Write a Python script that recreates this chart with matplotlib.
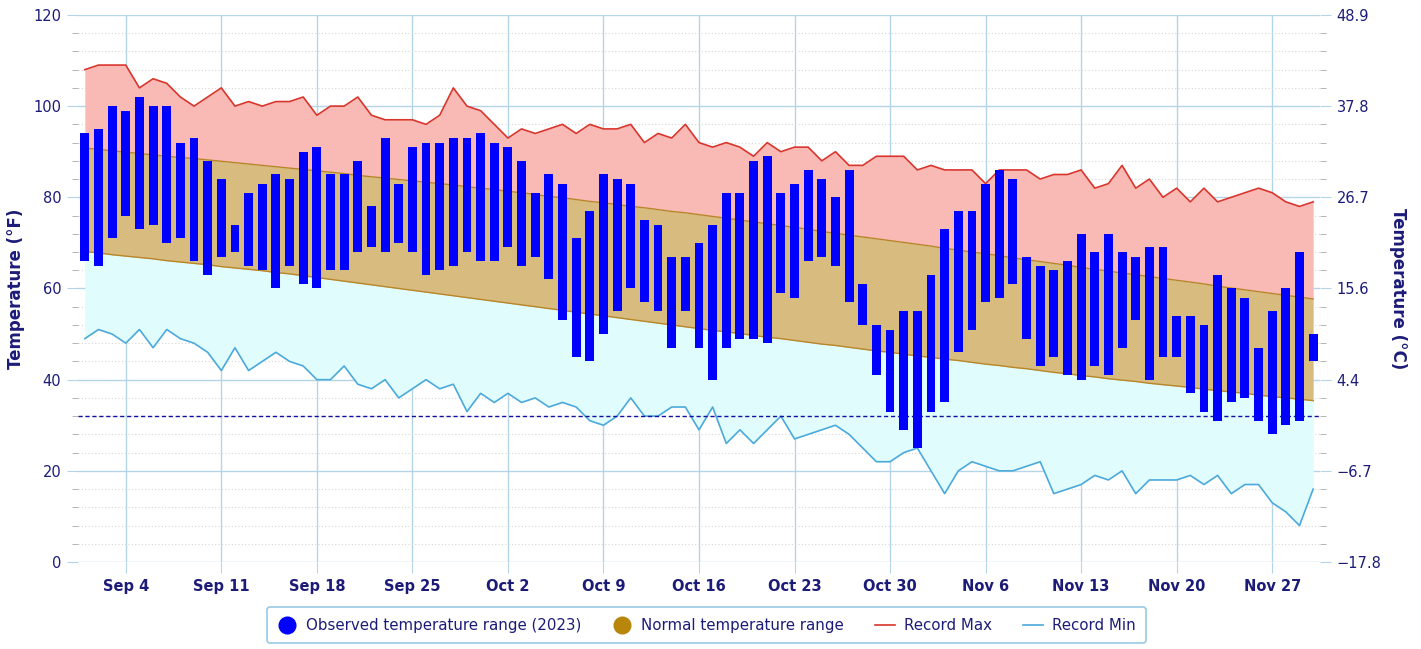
import numpy as np
import pandas as pd
import matplotlib
matplotlib.use("Agg")
import matplotlib.pyplot as plt
from matplotlib.lines import Line2D
from matplotlib.ticker import MultipleLocator, FixedLocator

dates = pd.date_range("2023-09-01", "2023-11-30", freq="D")

obs_high = [94, 95, 100, 99, 102, 100, 100, 92, 93, 88, 84, 74, 81, 83, 85, 84,
            90, 91, 85, 85, 88, 78, 93, 83, 91, 92, 92, 93, 93, 94, 92,
            91, 88, 81, 85, 83, 71, 77, 85, 84, 83, 75, 74, 67, 67, 70,
            74, 81, 81, 88, 89, 81, 83, 86, 84, 80, 86, 61, 52, 51, 55, 55,
            63, 73, 77, 77, 83, 86, 84, 67, 65, 64, 66, 72, 68, 72, 68,
            67, 69, 69, 54, 54, 52, 63, 60, 58, 47, 55, 60, 68, 50]
obs_low = [66, 65, 71, 76, 73, 74, 70, 71, 66, 63, 67, 68, 65, 64, 60, 65,
           61, 60, 64, 64, 68, 69, 68, 70, 68, 63, 64, 65, 68, 66, 66,
           69, 65, 67, 62, 53, 45, 44, 50, 55, 60, 57, 55, 47, 55, 47,
           40, 47, 49, 49, 48, 59, 58, 66, 67, 65, 57, 52, 41, 33, 29, 25,
           33, 35, 46, 51, 57, 58, 61, 49, 43, 45, 41, 40, 43, 41, 47,
           53, 40, 45, 45, 37, 33, 31, 35, 36, 31, 28, 30, 31, 44]

normal_high = [90.8, 90.5, 90.2, 89.9, 89.6, 89.3, 89.0, 88.7, 88.5, 88.2, 87.9, 87.6, 87.3, 87.0, 86.7, 86.4,
               86.1, 85.8, 85.5, 85.2, 84.8, 84.5, 84.2, 83.9, 83.6, 83.3, 83.0, 82.7, 82.3, 82.0, 81.7,
               81.3, 81.0, 80.6, 80.2, 79.9, 79.5, 79.1, 78.8, 78.4, 78.0, 77.7, 77.3, 76.9, 76.6, 76.2,
               75.8, 75.4, 75.0, 74.6, 74.2, 73.8, 73.4, 73.0, 72.5, 72.1, 71.7, 71.3, 70.9, 70.5, 70.1,
               69.7, 69.3, 68.8, 68.4, 68.0, 67.6, 67.2, 66.7, 66.3, 65.9, 65.5, 65.1, 64.6, 64.2, 63.8,
               63.4, 63.0, 62.6, 62.2, 61.8, 61.4, 61.0, 60.5, 60.1, 59.7, 59.3, 58.9, 58.5, 58.1, 57.7]
normal_low = [68.1, 67.8, 67.4, 67.1, 66.8, 66.5, 66.1, 65.8, 65.5, 65.2, 64.8, 64.5, 64.2, 63.9, 63.5, 63.2,
              62.8, 62.4, 62.0, 61.6, 61.2, 60.8, 60.4, 60.0, 59.6, 59.2, 58.8, 58.4, 58.0, 57.6, 57.2,
              56.8, 56.4, 56.0, 55.6, 55.2, 54.8, 54.4, 54.0, 53.6, 53.2, 52.8, 52.4, 52.0, 51.6, 51.2,
              50.8, 50.5, 50.1, 49.7, 49.3, 49.0, 48.6, 48.2, 47.8, 47.5, 47.1, 46.7, 46.3, 46.0, 45.6,
              45.2, 44.9, 44.5, 44.2, 43.8, 43.4, 43.1, 42.7, 42.4, 42.0, 41.6, 41.3, 40.9, 40.6, 40.2,
              39.9, 39.6, 39.2, 38.9, 38.6, 38.3, 37.9, 37.6, 37.3, 37.0, 36.6, 36.3, 36.0, 35.7, 35.4]

record_max = [108, 109, 109, 109, 104, 106, 105, 102, 100, 102, 104, 100, 101, 100, 101, 101,
              102, 98, 100, 100, 102, 98, 97, 97, 97, 96, 98, 104, 100, 99, 96,
              93, 95, 94, 95, 96, 94, 96, 95, 95, 96, 92, 94, 93, 96, 92,
              91, 92, 91, 89, 92, 90, 91, 91, 88, 90, 87, 87, 89, 89, 89, 86,
              87, 86, 86, 86, 83, 86, 86, 86, 84, 85, 85, 86, 82, 83, 87,
              82, 84, 80, 82, 79, 82, 79, 80, 81, 82, 81, 79, 78, 79]
record_min = [49, 51, 50, 48, 51, 47, 51, 49, 48, 46, 42, 47, 42, 44, 46, 44,
              43, 40, 40, 43, 39, 38, 40, 36, 38, 40, 38, 39, 33, 37, 35,
              37, 35, 36, 34, 35, 34, 31, 30, 32, 36, 32, 32, 34, 34, 29,
              34, 26, 29, 26, 29, 32, 27, 28, 29, 30, 28, 25, 22, 22, 24, 25,
              20, 15, 20, 22, 21, 20, 20, 21, 22, 15, 16, 17, 19, 18, 20,
              15, 18, 18, 18, 19, 17, 19, 15, 17, 17, 13, 11, 8, 16]

freezing = 32
f_ticks = [0, 20, 40, 60, 80, 100, 120]

navy = "#1c1c78"
grid_blue = "#b4d5e8"

fig = plt.figure(figsize=(14.21, 6.49), dpi=100)
ax = fig.add_axes([0.0549, 0.134, 0.874, 0.843])

ax.fill_between(dates, normal_high, record_max, color="#f9b9b5", linewidth=0, zorder=1)
ax.fill_between(dates, record_min, normal_low, color="#e0fcfc", linewidth=0, zorder=1)
ax.fill_between(dates, normal_low, normal_high, color="#d8bb7e", linewidth=0, zorder=1)
ax.plot(dates, normal_high, color="#b8862a", lw=1, zorder=2)
ax.plot(dates, normal_low, color="#b8862a", lw=1, zorder=2)
ax.plot(dates, record_max, color="#d9352c", lw=1.2, zorder=3)
ax.plot(dates, record_min, color="#4ba9db", lw=1.2, zorder=3)
ax.axhline(freezing, color="#1010a0", lw=1, ls=(0, (3, 2)), zorder=3)

lo = np.array(obs_low)
hi = np.array(obs_high)
ax.bar(dates, hi - lo, bottom=lo, width=0.65, color="#0000ff", zorder=4)

ax.set_ylim(0, 120)
ax.set_xlim(dates[0] - pd.Timedelta(hours=12), dates[-1] + pd.Timedelta(hours=12))
ax.yaxis.set_major_locator(FixedLocator(f_ticks))
ax.yaxis.set_minor_locator(MultipleLocator(4))
week_ticks = dates[3::7]
ax.set_xticks(week_ticks)
ax.set_xticklabels([f"{d:%b} {d.day}" for d in week_ticks])

ax.grid(which="major", color=grid_blue, lw=1, zorder=0)
ax.grid(which="minor", axis="y", color="#d6d6d6", lw=0.8, ls=(0, (1, 2)), zorder=0)
ax.set_axisbelow(True)
for s in ax.spines.values():
    s.set_visible(False)

ax.tick_params(axis="y", which="major", length=8, color=grid_blue, labelcolor=navy, labelsize=10.5, pad=4)
ax.tick_params(axis="y", which="minor", length=4, color="#aaaaaa")
ax.tick_params(axis="x", which="major", length=8, color=grid_blue, labelcolor=navy, labelsize=10.5, pad=4)
for lab in ax.get_xticklabels():
    lab.set_fontweight("semibold")
ax.set_ylabel("Temperature (°F)", color=navy, fontsize=12, fontweight="bold", labelpad=6)

ax2 = ax.twinx()
ax2.set_ylim(0, 120)
ax2.yaxis.set_major_locator(FixedLocator(f_ticks))
ax2.yaxis.set_minor_locator(MultipleLocator(4))
ax2.set_yticklabels([f"{(f - 32) * 5 / 9:.1f}".replace("-", "\u2212") for f in f_ticks])
ax2.tick_params(axis="y", which="major", length=8, color=grid_blue, labelcolor=navy, labelsize=10.5, pad=4)
ax2.tick_params(axis="y", which="minor", length=4, color="#aaaaaa")
for s in ax2.spines.values():
    s.set_visible(False)
ax2.set_ylabel("Temperature (°C)", color=navy, fontsize=12, fontweight="bold", rotation=270, labelpad=18)

handles = [
    Line2D([], [], ls="none", marker="o", markersize=12, color="#0000ff"),
    Line2D([], [], ls="none", marker="o", markersize=12, color="#b8860b"),
    Line2D([], [], color="#d9352c", lw=1.2),
    Line2D([], [], color="#4ba9db", lw=1.2),
]
labels = ["Observed temperature range (2023)", "Normal temperature range", "Record Max", "Record Min"]
leg = fig.legend(handles, labels, loc="lower center", bbox_to_anchor=(0.497, -0.003), ncol=4,
                 frameon=True, fancybox=True, fontsize=10.8, handlelength=1.3, handletextpad=0.6,
                 columnspacing=2.1, borderpad=0.7)
leg.get_frame().set_edgecolor("#7fbbdc")
leg.get_frame().set_linewidth(1.2)
for t in leg.get_texts():
    t.set_color(navy)

fig.savefig("out.png", dpi=100)
